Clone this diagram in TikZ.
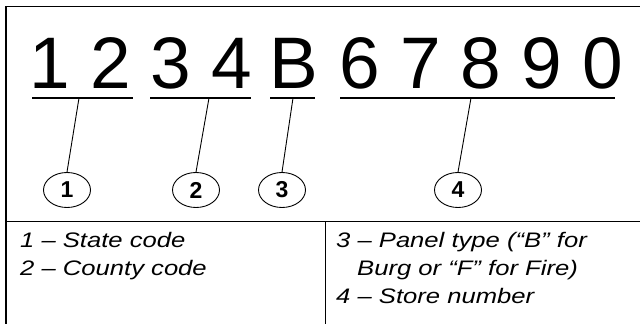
\documentclass[tikz,border=0pt]{standalone}
\usepackage{fontspec}
\setmainfont{Liberation Sans}
\newfontfamily\keyfont[FakeStretch=1.22]{Liberation Sans}
\usetikzlibrary{shapes.geometric}

\begin{document}
\begin{tikzpicture}[x=1pt,y=-1pt,
        digits/.style={inner sep=0pt,anchor=base west,font=\fontsize{73}{73}\selectfont},
        tag/.style={draw,ellipse,line width=0.9pt,inner sep=0pt,minimum width=47pt,minimum height=35pt,font=\fontsize{23}{23}\selectfont\bfseries},
        legend/.style={inner sep=0pt,anchor=base west,font=\keyfont\fontsize{21}{21}\selectfont\itshape},
        underline/.style={line width=1.2pt},
        pointer/.style={line width=0.9pt},
    ]
        \useasboundingbox (0,0) rectangle (640,324);
        % frame and table rules
        \draw[line width=1.8pt] (6,324) -- (6,6.5) -- (640,6.5);
        \draw[line width=1pt] (6,221) -- (640,221);
        \draw[line width=1pt] (325,221) -- (325,324);

        % the number, in groups
        \node[digits] (state)  at (29,88)  {1 2};
        \node[digits] (county) at (150,88) {3 4};
        \node[digits] (panel)  at (269,88) {B};
        \node[digits] (store)  at (339,88) {6 7 8 9 0};

        \draw[underline] (32,98)  -- (133,98);
        \draw[underline] (150,98) -- (251,98);
        \draw[underline] (270,98) -- (315,98);
        \draw[underline] (340,98) -- (615,98);

        \coordinate (state-u)  at (79,98);
        \coordinate (county-u) at (209,98);
        \coordinate (panel-u)  at (293,98);
        \coordinate (store-u)  at (471,98);

        % numbered tags
        \node[tag] (tag-1) at (67,190)  {1};
        \node[tag] (tag-2) at (196,190) {2};
        \node[tag] (tag-3) at (282,190) {3};
        \node[tag] (tag-4) at (458,190) {4};

        \draw[pointer] (state-u)  -- (tag-1.north);
        \draw[pointer] (county-u) -- (tag-2.north);
        \draw[pointer] (panel-u)  -- (tag-3.north);
        \draw[pointer] (store-u)  -- (tag-4.north);

        % legend
        \node[legend] (key-1)  at (20,247)  {1 – State code};
        \node[legend] (key-2)  at (20,275)  {2 – County code};
        \node[legend] (key-3)  at (336,247) {3 – Panel type (“B” for};
        \node[legend] (key-3b) at (357,275) {Burg or “F” for Fire)};
        \node[legend] (key-4)  at (336,303) {4 – Store number};
\end{tikzpicture}
\end{document}
